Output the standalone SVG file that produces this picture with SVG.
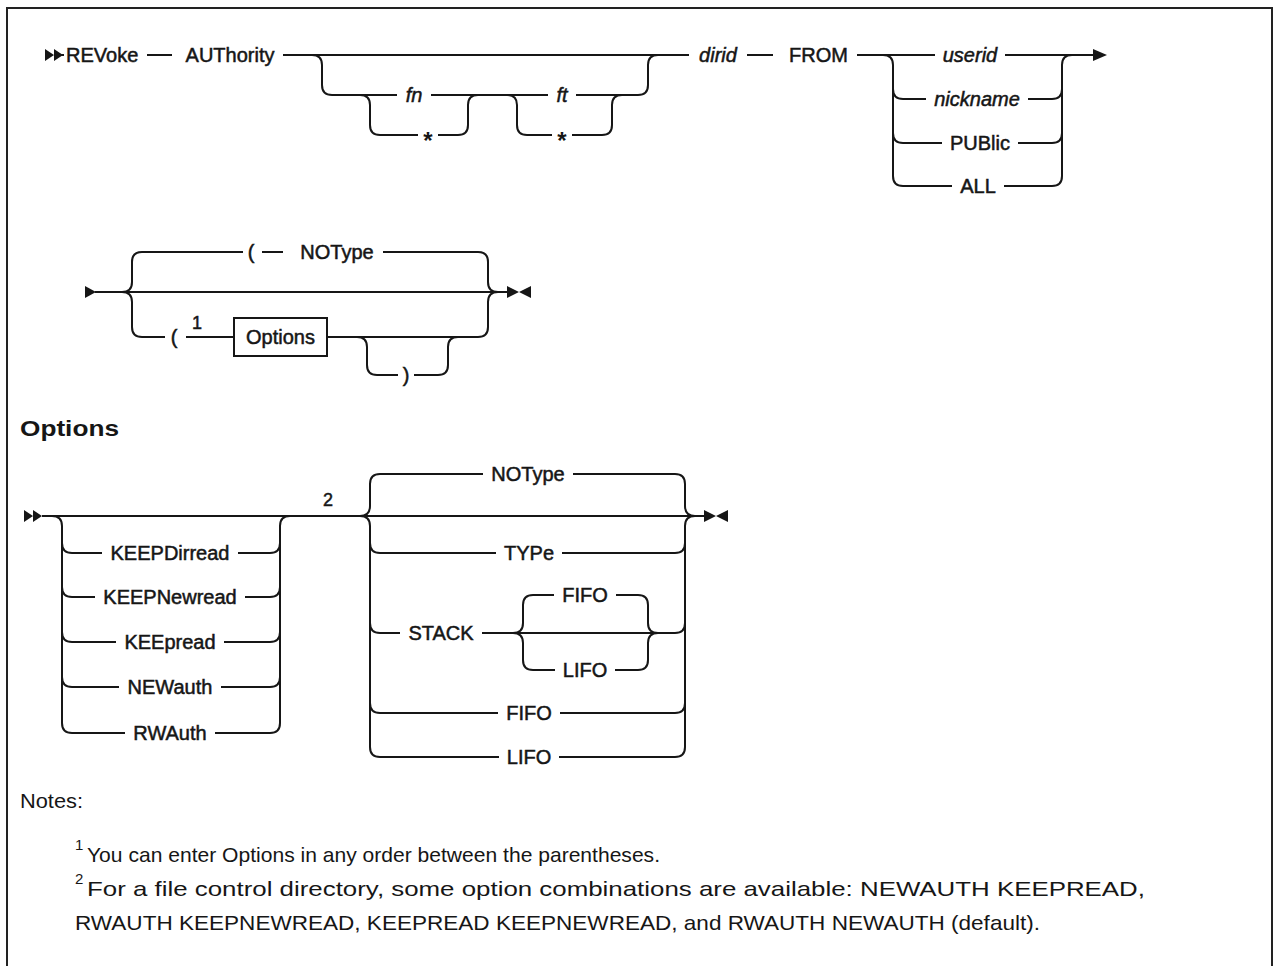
<svg xmlns="http://www.w3.org/2000/svg" width="1274" height="966" viewBox="0 0 1274 966">
<style>
.ln{fill:none;stroke:#161616;stroke-width:2}
.ar{fill:#161616;stroke:none}
.t{font-family:"Liberation Sans",Arial,sans-serif;font-size:20px;fill:#161616;stroke:#161616;stroke-width:0.5}
.m{text-anchor:middle}
.i{font-style:italic}
.st{font-family:"Liberation Sans",Arial,sans-serif;font-size:24px;font-weight:bold;fill:#161616;text-anchor:middle}
.sup{font-family:"Liberation Sans",Arial,sans-serif;font-size:18px;fill:#161616;stroke:#161616;stroke-width:0.5;text-anchor:middle}
.h{font-family:"Liberation Sans",Arial,sans-serif;font-size:22px;font-weight:bold;fill:#161616}
.n{font-family:"Liberation Sans",Arial,sans-serif;font-size:21px;fill:#161616}
.ns{font-family:"Liberation Sans",Arial,sans-serif;font-size:15px;fill:#161616}
.box{fill:#fff;stroke:#161616;stroke-width:2}
</style>
<rect width="1274" height="966" fill="#fff"/>
<path d="M7,966 V8 H1272 V966" fill="none" stroke="#222" stroke-width="2"/>

<g id="connectors">
  <!-- line 1 -->
  <path class="ar" d="M45,49 L54,55 L45,61 Z M54,49 L63,55 L54,61 Z"/>
  <path class="ln" d="M60,55 H64 M147,55 H172 M283,55 H689 M747,55 H773 M857,55 H935 M1005,55 H1095"/>
  <path class="ar" d="M1093,49 L1107,55 L1093,61 Z"/>
  <!-- fn ft -->
  <path class="ln" d="M312,55 Q322,55 322,65 V85 Q322,95 332,95 H397 M431,95 H548 M576,95 H638 Q648,95 648,85 V65 Q648,55 658,55"/>
  <path class="ln" d="M360,95 Q370,95 370,105 V125 Q370,135 380,135 H418 M438,135 H458 Q468,135 468,125 V105 Q468,95 478,95"/>
  <path class="ln" d="M507,95 Q517,95 517,105 V125 Q517,135 527,135 H552 M572,135 H602 Q612,135 612,125 V105 Q612,95 622,95"/>
  <!-- FROM group -->
  <path class="ln" d="M883,55 Q893,55 893,65 V176 Q893,186 903,186 H952 M893,89 Q893,99 903,99 H926 M893,133 Q893,143 903,143 H942"/>
  <path class="ln" d="M1004,186 H1052 Q1062,186 1062,176 V65 Q1062,55 1072,55 M1028,99 H1052 Q1062,99 1062,89 M1018,143 H1052 Q1062,143 1062,133"/>
  <!-- line 2 -->
  <path class="ar" d="M85,286 L96,292 L85,298 Z"/>
  <path class="ln" d="M95,292 H508"/>
  <path class="ln" d="M122,292 Q132,292 132,282 V262 Q132,252 142,252 H243 M262,252 H283 M383,252 H478 Q488,252 488,262 V282 Q488,292 498,292"/>
  <path class="ln" d="M122,292 Q132,292 132,302 V327 Q132,337 142,337 H165 M186,337 H234 M327,337 H478 Q488,337 488,327 V302 Q488,292 498,292"/>
  <path class="ln" d="M357,337 Q367,337 367,347 V365 Q367,375 377,375 H398 M414,375 H438 Q448,375 448,365 V347 Q448,337 458,337"/>
  <path class="ar" d="M507,286 L519,292 L507,298 Z M531,286 L519,292 L531,298 Z"/>
  <!-- options fragment -->
  <path class="ar" d="M24,510 L33,516 L24,522 Z M33,510 L42,516 L33,522 Z"/>
  <path class="ln" d="M42,516 H705"/>
  <path class="ln" d="M52,516 Q62,516 62,526 V723 Q62,733 72,733 M62,543 Q62,553 72,553 M62,587 Q62,597 72,597 M62,632 Q62,642 72,642 M62,677 Q62,687 72,687"/>
  <path class="ln" d="M270,733 Q280,733 280,723 V526 Q280,516 290,516 M270,553 Q280,553 280,543 M270,597 Q280,597 280,587 M270,642 Q280,642 280,632 M270,687 Q280,687 280,677"/>
  <path class="ln" d="M72,553 H102 M238,553 H270 M72,597 H95 M245,597 H270 M72,642 H116 M224,642 H270 M72,687 H119 M221,687 H270 M72,733 H125 M215,733 H270"/>
  <path class="ln" d="M360,516 Q370,516 370,506 V484 Q370,474 380,474 H483 M573,474 H675 Q685,474 685,484 V506 Q685,516 695,516"/>
  <path class="ln" d="M360,516 Q370,516 370,526 V747 Q370,757 380,757 H499 M559,757 H675 Q685,757 685,747 V526 Q685,516 695,516"/>
  <path class="ln" d="M370,543 Q370,553 380,553 H496 M562,553 H675 Q685,553 685,543"/>
  <path class="ln" d="M370,623 Q370,633 380,633 H400 M482,633 H675 Q685,633 685,623"/>
  <path class="ln" d="M370,703 Q370,713 380,713 H498 M560,713 H675 Q685,713 685,703"/>
  <path class="ln" d="M513,633 Q523,633 523,623 V605 Q523,595 533,595 H554 M616,595 H638 Q648,595 648,605 V623 Q648,633 658,633"/>
  <path class="ln" d="M513,633 Q523,633 523,643 V660 Q523,670 533,670 H555 M615,670 H638 Q648,670 648,660 V643 Q648,633 658,633"/>
  <path class="ar" d="M704,510 L716,516 L704,522 Z M728,510 L716,516 L728,522 Z"/>
</g>

<g id="n-revoke"><text class="t" x="66" y="62">REVoke</text></g>
<g id="n-authority"><text class="t m" x="230" y="62">AUThority</text></g>
<g id="n-fn"><text class="t m i" x="414" y="102">fn</text></g>
<g id="n-fn-star"><text class="st" x="428" y="149">*</text></g>
<g id="n-ft"><text class="t m i" x="562" y="102">ft</text></g>
<g id="n-ft-star"><text class="st" x="562" y="149">*</text></g>
<g id="n-dirid"><text class="t m i" x="718" y="62">dirid</text></g>
<g id="n-from"><text class="t" x="789" y="62">FROM</text></g>
<g id="n-userid"><text class="t m i" x="970" y="62">userid</text></g>
<g id="n-nickname"><text class="t m i" x="977" y="106">nickname</text></g>
<g id="n-public"><text class="t m" x="980" y="150">PUBlic</text></g>
<g id="n-all"><text class="t m" x="978" y="193">ALL</text></g>

<g id="n-lparen1"><text class="t m" x="251" y="259">(</text></g>
<g id="n-notype1"><text class="t m" x="337" y="259">NOType</text></g>
<g id="n-lparen2"><text class="t m" x="174" y="344">(</text><text class="sup" x="197" y="329">1</text></g>
<g id="n-options-ref"><rect class="box" x="234" y="318" width="93" height="38"/><text class="t m" x="280.5" y="344">Options</text></g>
<g id="n-rparen"><text class="t m" x="406" y="382">)</text></g>

<g id="n-options-title"><text class="h" x="20" y="436" textLength="99" lengthAdjust="spacingAndGlyphs">Options</text></g>
<g id="n-keepdirread"><text class="t m" x="170" y="560">KEEPDirread</text></g>
<g id="n-keepnewread"><text class="t m" x="170" y="604">KEEPNewread</text></g>
<g id="n-keepread"><text class="t m" x="170" y="649">KEEpread</text></g>
<g id="n-newauth"><text class="t m" x="170" y="694">NEWauth</text></g>
<g id="n-rwauth"><text class="t m" x="170" y="740">RWAuth</text></g>
<g id="n-note2ref"><text class="sup" x="328" y="506">2</text></g>
<g id="n-notype2"><text class="t m" x="528" y="481">NOType</text></g>
<g id="n-type"><text class="t m" x="529" y="560">TYPe</text></g>
<g id="n-stack"><text class="t m" x="441" y="640">STACK</text></g>
<g id="n-fifo-in"><text class="t m" x="585" y="602">FIFO</text></g>
<g id="n-lifo-in"><text class="t m" x="585" y="677">LIFO</text></g>
<g id="n-fifo"><text class="t m" x="529" y="720">FIFO</text></g>
<g id="n-lifo"><text class="t m" x="529" y="764">LIFO</text></g>

<g id="notes">
  <text class="n" x="20" y="808" textLength="63" lengthAdjust="spacingAndGlyphs">Notes:</text>
  <text class="ns" x="75" y="850">1</text>
  <text class="n" x="87" y="862" textLength="573" lengthAdjust="spacingAndGlyphs">You can enter Options in any order between the parentheses.</text>
  <text class="ns" x="75" y="884">2</text>
  <text class="n" x="87" y="896" textLength="1058" lengthAdjust="spacingAndGlyphs">For a file control directory, some option combinations are available: NEWAUTH KEEPREAD,</text>
  <text class="n" x="75" y="930" textLength="965" lengthAdjust="spacingAndGlyphs">RWAUTH KEEPNEWREAD, KEEPREAD KEEPNEWREAD, and RWAUTH NEWAUTH (default).</text>
</g>
</svg>
